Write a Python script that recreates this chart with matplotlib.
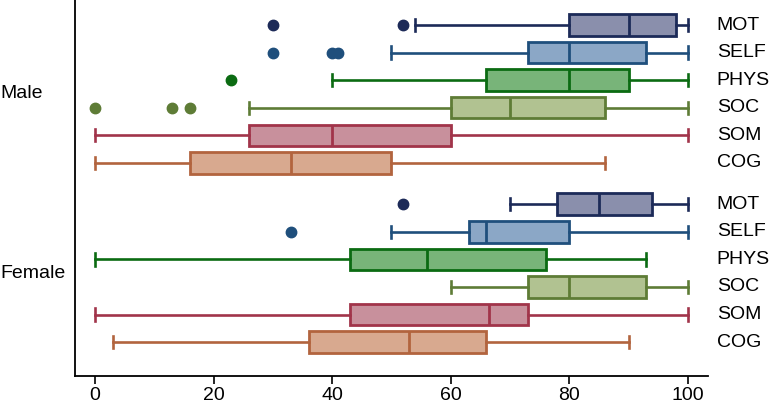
import matplotlib
matplotlib.use("Agg")
import matplotlib.pyplot as plt

plt.rcParams['font.family'] = ['Liberation Sans', 'DejaVu Sans']

groups = ["Male", "Female"]
domains = ["MOT", "SELF", "PHYS", "SOC", "SOM", "COG"]

# whisker low, q1, median, q3, whisker high, outliers
male_low = [54, 50, 40, 26, 0, 0]
male_q1 = [80, 73, 66, 60, 26, 16]
male_med = [90, 80, 80, 70, 40, 33]
male_q3 = [98, 93, 90, 86, 60, 50]
male_high = [100, 100, 100, 100, 100, 86]
male_out = [[30, 52], [30, 40, 41], [23], [0, 13, 16], [], []]

female_low = [70, 50, 0, 60, 0, 3]
female_q1 = [78, 63, 43, 73, 43, 36]
female_med = [85, 66, 56, 80, 66.5, 53]
female_q3 = [94, 80, 76, 93, 73, 66]
female_high = [100, 100, 93, 100, 100, 90]
female_out = [[52], [33], [], [], [], []]

edge_colors = ["#1c2a58", "#1f4f7c", "#0b6b12", "#5e7c36", "#a1344a", "#b2643e"]
fill_colors = ["#8a8fac", "#8ba7c6", "#78b479", "#b1c291", "#c8909c", "#d8a98f"]

fig = plt.figure(figsize=(7.74, 4.08), dpi=100)
ax = fig.add_axes([75 / 774, 32 / 408, 633 / 774, 376 / 408])

group_data = [
    (male_low, male_q1, male_med, male_q3, male_high, male_out),
    (female_low, female_q1, female_med, female_q3, female_high, female_out),
]

for g, (lo, q1, med, q3, hi, out) in enumerate(group_data):
    for i, name in enumerate(domains):
        pos = g * 6.5 + i
        stats = [dict(whislo=lo[i], q1=q1[i], med=med[i], q3=q3[i],
                      whishi=hi[i], fliers=out[i])]
        ec = edge_colors[i]
        ax.bxp(stats, positions=[pos], vert=False, widths=0.78,
               patch_artist=True, capwidths=0.45,
               boxprops=dict(facecolor=fill_colors[i], edgecolor=ec, linewidth=2.0),
               medianprops=dict(color=ec, linewidth=2.0),
               whiskerprops=dict(color=ec, linewidth=1.9),
               capprops=dict(color=ec, linewidth=1.9),
               flierprops=dict(marker='o', markerfacecolor=ec, markeredgecolor=ec,
                               markersize=7.5, linestyle='none'))
        ax.text(1.014, pos, name, transform=ax.get_yaxis_transform(),
                ha='left', va='center', fontsize=14)
    ax.text(-0.1185, g * 6.5 + 2.5, groups[g], transform=ax.get_yaxis_transform(),
            ha='left', va='center', fontsize=14)

ax.set_xlim(-3.4, 103.4)
ax.set_ylim(12.73, -0.907)
ax.set_yticks([])
ax.set_xticks([0, 20, 40, 60, 80, 100])
ax.tick_params(axis='x', labelsize=14, length=6, width=1.2, pad=2)
ax.spines['top'].set_visible(False)
ax.spines['right'].set_visible(False)
ax.spines['left'].set_linewidth(1.3)
ax.spines['bottom'].set_linewidth(1.3)

fig.savefig("out.png", dpi=100)
